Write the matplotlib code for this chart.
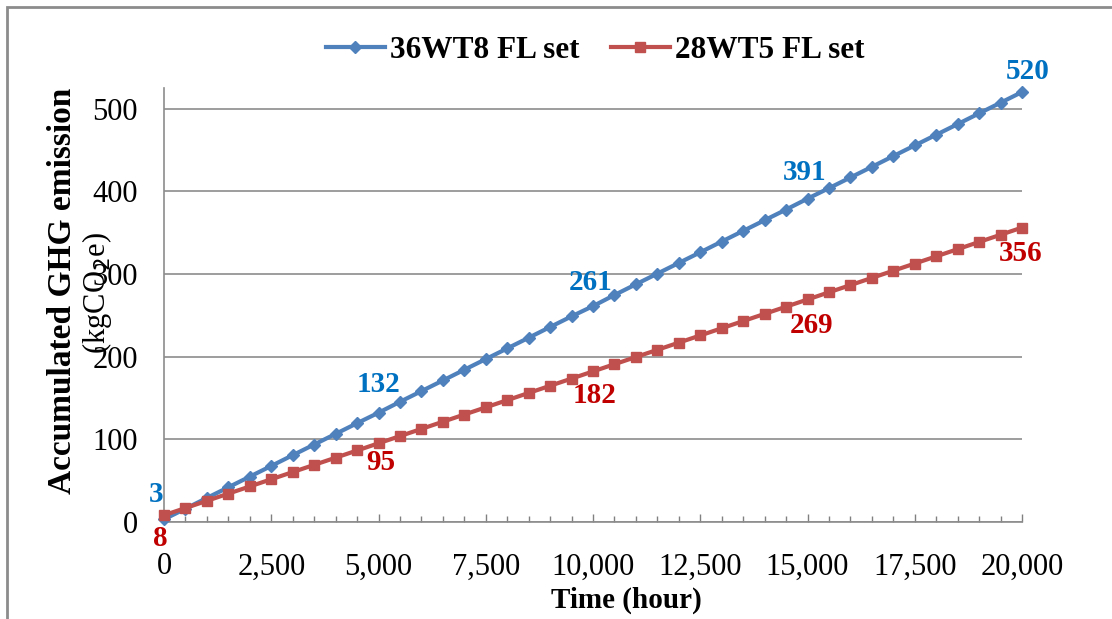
import matplotlib
matplotlib.use("Agg")
import matplotlib.pyplot as plt
from matplotlib.patches import Rectangle
from matplotlib.ticker import MultipleLocator, FuncFormatter

plt.rcParams['font.family'] = ['Liberation Serif', 'DejaVu Serif']

# data
hours = [0, 500, 1000, 1500, 2000, 2500, 3000, 3500, 4000, 4500,
         5000, 5500, 6000, 6500, 7000, 7500, 8000, 8500, 9000, 9500,
         10000, 10500, 11000, 11500, 12000, 12500, 13000, 13500, 14000, 14500,
         15000, 15500, 16000, 16500, 17000, 17500, 18000, 18500, 19000, 19500,
         20000]
t8_set = [3, 15.9, 28.9, 41.8, 54.7, 67.6, 80.6, 93.5, 106.4, 119.3,
          132, 145.2, 158.1, 171.0, 184.0, 196.9, 209.8, 222.7, 235.7, 248.6,
          261, 274.4, 287.4, 300.3, 313.2, 326.1, 339.1, 352.0, 364.9, 377.8,
          391, 403.7, 416.6, 429.5, 442.5, 455.4, 468.3, 481.2, 494.2, 507.1,
          520]
t5_set = [8, 16.7, 25.4, 34.1, 42.8, 51.5, 60.2, 68.9, 77.6, 86.3,
          95, 103.7, 112.4, 121.1, 129.8, 138.5, 147.2, 155.9, 164.6, 173.3,
          182, 190.7, 199.4, 208.1, 216.8, 225.5, 234.2, 242.9, 251.6, 260.3,
          269, 277.7, 286.4, 295.1, 303.8, 312.5, 321.2, 329.9, 338.6, 347.3,
          356]
series_names = ['36WT8 FL set', '28WT5 FL set']
label_idx = [0, 10, 20, 30, 40]

fig = plt.figure(figsize=(11.12, 6.19), dpi=100)
ax = fig.add_axes([0.1475, 0.157, 0.7716, 0.701])

ax.plot(hours, t8_set, color='#4F81BD', lw=3, marker='D', ms=6,
        label=series_names[0], clip_on=False, zorder=3)
ax.plot(hours, t5_set, color='#C0504D', lw=3, marker='s', ms=7,
        label=series_names[1], clip_on=False, zorder=3)

# data labels (offsets in points)
blue_off = [(-6, 18), (0, 20), (-2, 17), (-2, 19), (4, 15)]
red_off = [(-3, -17), (2, -14), (1, -17), (3, -19), (-1, -19)]
for i, off in zip(label_idx, blue_off):
    ax.annotate(f'{t8_set[i]:.0f}', (hours[i], t8_set[i]), xytext=off,
                textcoords='offset points', ha='center', va='center',
                color='#0070C0', fontsize=21, fontweight='bold')
for i, off in zip(label_idx, red_off):
    ax.annotate(f'{t5_set[i]:.0f}', (hours[i], t5_set[i]), xytext=off,
                textcoords='offset points', ha='center', va='center',
                color='#C00000', fontsize=21, fontweight='bold')

ax.set_xlim(0, 20000)
ax.set_ylim(0, 525)
ax.xaxis.set_major_locator(MultipleLocator(2500))
ax.xaxis.set_minor_locator(MultipleLocator(500))
ax.yaxis.set_major_locator(MultipleLocator(100))
ax.xaxis.set_major_formatter(FuncFormatter(lambda v, p: f'{v:,.0f}'))
ax.tick_params(axis='x', which='major', direction='in', length=6, width=1,
               color='#808080', labelsize=22, pad=22)
ax.tick_params(axis='x', which='minor', direction='in', length=4, width=1,
               color='#808080')
ax.tick_params(axis='y', length=0, labelsize=22, pad=19)

ax.grid(axis='y', color='#8c8c8c', lw=1.2)
ax.set_axisbelow(True)
for s in ['top', 'right']:
    ax.spines[s].set_visible(False)
for s in ['left', 'bottom']:
    ax.spines[s].set_color('#8c8c8c')
    ax.spines[s].set_linewidth(1.2)

ax.set_xlabel('Time (hour)', fontsize=21, fontweight='bold', va='center')
ax.xaxis.set_label_coords(0.539, -0.18)
fig.text(0.056, 0.53, 'Accumulated GHG emission', rotation=90, ha='center',
         va='center', fontsize=24, fontweight='bold')
fig.text(0.087, 0.527, '(kgCO$_2$e)', rotation=90, ha='center', va='center',
         fontsize=22)

leg = fig.legend(loc='center', bbox_to_anchor=(0.535, 0.918), ncol=2,
                 frameon=False, prop={'size': 22.5, 'weight': 'bold'},
                 handlelength=1.9, handletextpad=0.15, columnspacing=1.0)

fig.add_artist(Rectangle((7 / 1112, -0.05), 1.2, 1 - 7 / 619 + 0.05,
                         transform=fig.transFigure, fill=False,
                         edgecolor='#8c8c8c', lw=2))

fig.savefig('out.png', dpi=100)
